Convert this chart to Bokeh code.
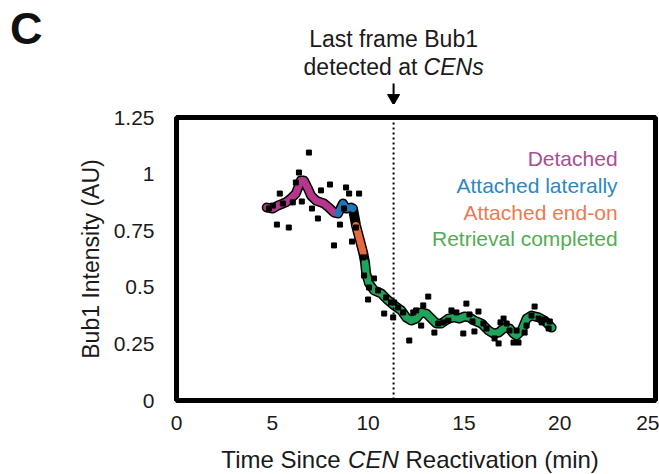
import math
from bokeh.plotting import figure
from bokeh.layouts import column
from bokeh.models import Range1d, FixedTicker, Span
from bokeh.core.properties import value
from bokeh.embed import file_html
from bokeh.resources import INLINE

# ---- data ----
x_ticks = [0, 5, 10, 15, 20, 25]
y_ticks = [0, 0.25, 0.5, 0.75, 1.0, 1.25]
y_tick_labels = ["0", "0.25", "0.5", "0.75", "1", "1.25"]

detached_t = [4.71, 5.03, 5.29, 5.55, 5.71, 5.97, 6.23, 6.49, 6.65, 6.86, 7.02, 7.28, 7.54, 7.70, 7.96, 8.22, 8.43]
detached_y = [0.852, 0.848, 0.861, 0.870, 0.875, 0.892, 0.914, 0.972, 0.972, 0.936, 0.905, 0.883, 0.875, 0.870, 0.852, 0.830, 0.826]

lateral_t = [8.43, 8.69, 8.85, 9.11, 9.21]
lateral_y = [0.826, 0.870, 0.848, 0.852, 0.848]

endon_t = [9.37, 9.74]
endon_y = [0.773, 0.654]

retrieved_t = [9.84, 9.90, 10.05, 10.31, 10.68, 11.05, 11.36, 11.73, 11.99, 12.25, 12.51, 12.77, 13.04,
               13.30, 13.56, 13.82, 14.19, 14.50, 14.76, 15.03, 15.29, 15.55, 15.92, 16.28, 16.54, 16.81,
               17.12, 17.38, 17.59, 17.75, 18.01, 18.27, 18.53, 18.90, 19.21, 19.48, 19.58]
retrieved_y = [0.610, 0.561, 0.517, 0.486, 0.473, 0.442, 0.420, 0.398, 0.367, 0.353, 0.362, 0.389, 0.384,
               0.362, 0.340, 0.340, 0.362, 0.367, 0.362, 0.371, 0.367, 0.353, 0.340, 0.309, 0.296, 0.300,
               0.322, 0.318, 0.296, 0.287, 0.309, 0.362, 0.375, 0.367, 0.353, 0.331, 0.322]

dots_t = [4.82, 5.03, 5.24, 5.39, 5.55, 5.86, 6.07, 6.23, 6.39, 6.54, 6.91, 7.07, 7.38, 7.54, 8.01, 8.22,
          8.53, 8.74, 8.85, 9.01, 9.16, 9.37, 9.53, 9.74, 9.79, 10.05, 10.00, 10.31, 10.52, 10.84, 10.94,
          11.20, 11.36, 11.57, 11.31, 11.83, 12.15, 12.36, 12.51, 12.88, 13.14, 12.77, 13.46, 13.66, 13.93,
          14.19, 14.35, 14.61, 14.97, 15.13, 15.29, 15.45, 15.55, 15.76, 16.02, 16.18, 16.60, 16.81, 16.91,
          17.07, 17.23, 17.38, 17.59, 17.85, 17.75, 18.17, 18.27, 18.53, 18.69, 18.90, 19.06, 19.21, 19.42, 19.48]
dots_y = [0.848, 0.861, 0.777, 0.914, 0.870, 0.764, 0.875, 0.963, 1.007, 0.879, 1.095, 0.848, 0.804, 0.928,
          0.954, 0.685, 0.777, 0.848, 0.941, 0.914, 0.702, 0.764, 0.914, 0.632, 0.552, 0.499, 0.446, 0.539,
          0.486, 0.384, 0.455, 0.433, 0.433, 0.411, 0.367, 0.389, 0.265, 0.389, 0.398, 0.420, 0.459, 0.331,
          0.300, 0.340, 0.345, 0.353, 0.398, 0.389, 0.296, 0.428, 0.380, 0.349, 0.305, 0.393, 0.340, 0.318,
          0.274, 0.252, 0.345, 0.362, 0.340, 0.309, 0.256, 0.256, 0.309, 0.300, 0.331, 0.375, 0.415, 0.362,
          0.345, 0.358, 0.318, 0.349]

last_frame_t = 11.33

legend_names = ["Detached", "Attached laterally", "Attached end-on", "Retrieval completed"]
legend_colors = ["#a94e93", "#2a88c6", "#ec7a52", "#52ad52"]
line_colors = ["#b5378c", "#1f77b8", "#e8683f", "#20a35a"]
legend_y = [1.069, 0.950, 0.830, 0.716]

FONT = "Liberation Sans"
TXT = "#1a1a1a"

W, H = 659, 474
X0, X1 = 0.0, 25.0
Y0, Y1 = 0.0, 1.25
FRAME_L, FRAME_R, FRAME_T, FRAME_B = 176, 655, 117, 400      # page pixels of the frame
sy = (FRAME_B - FRAME_T) / (Y1 - Y0)
TOP_H, BOT_Y = 104, 440

# ---- main plot ----
p = figure(width=W, height=BOT_Y - TOP_H, x_range=Range1d(X0, X1), y_range=Range1d(Y0, Y1),
           output_backend="svg", toolbar_location=None, title=None,
           min_border_left=FRAME_L, min_border_right=W - FRAME_R,
           min_border_top=FRAME_T - TOP_H, min_border_bottom=BOT_Y - FRAME_B)
p.grid.visible = False
p.outline_line_color = "black"
p.outline_line_width = 5

for ax in (p.xaxis, p.yaxis):
    ax.axis_line_color = None
    ax.major_tick_line_color = None
    ax.minor_tick_line_color = None
    ax.major_label_text_font = FONT
    ax.major_label_text_font_size = "21px"
    ax.major_label_text_color = TXT
p.xaxis.ticker = FixedTicker(ticks=x_ticks)
p.yaxis.ticker = FixedTicker(ticks=y_ticks)
p.yaxis.major_label_overrides = {t: l for t, l in zip(y_ticks, y_tick_labels)}
p.xaxis.major_label_standoff = 9
p.yaxis.major_label_standoff = 16

p.yaxis.axis_label = "Bub1 Intensity (AU)"
p.yaxis.axis_label_text_font = FONT
p.yaxis.axis_label_text_font_size = "23px"
p.yaxis.axis_label_text_font_style = "normal"
p.yaxis.axis_label_text_color = TXT
p.yaxis.axis_label_standoff = 7

p.add_layout(Span(location=last_frame_t, dimension="height", line_color="black",
                  line_width=2, line_dash="2 3"))

full_t = detached_t + lateral_t[1:] + endon_t + retrieved_t
full_y = detached_y + lateral_y[1:] + endon_y + retrieved_y
p.line(full_t, full_y, line_color="black", line_width=10, line_join="round", line_cap="round")
for (tt, yy), col in zip([(detached_t, detached_y), (lateral_t, lateral_y),
                          (endon_t, endon_y), (retrieved_t, retrieved_y)], line_colors):
    p.line(tt, yy, line_color=col, line_width=7, line_join="round", line_cap="round")

p.scatter(dots_t, dots_y, marker="square", size=5, color="black")

p.text(x=[23.02] * 4, y=legend_y, text=legend_names, text_color=legend_colors,
       text_font=value(FONT), text_font_size="21px", text_align="right", text_baseline="middle")

# ---- top strip (panel letter, annotation, arrow), same x scale as the main frame ----
panel_letter_y = 1.643
top = figure(width=W, height=TOP_H, output_backend="svg", toolbar_location=None, title=None,
             x_range=Range1d(X0, X1),
             y_range=Range1d(Y1 + (FRAME_T - TOP_H) / sy, Y1 + FRAME_T / sy),
             x_axis_location=None, y_axis_location="left",
             min_border_left=FRAME_L, min_border_right=W - FRAME_R, min_border_top=0, min_border_bottom=0)
top.grid.visible = False
top.outline_line_color = None
top.yaxis.ticker = FixedTicker(ticks=[panel_letter_y])
top.yaxis.major_label_overrides = {panel_letter_y: "C"}
top.yaxis.axis_line_color = None
top.yaxis.major_tick_line_color = None
top.yaxis.minor_tick_line_color = None
top.yaxis.major_label_text_font = FONT
top.yaxis.major_label_text_font_style = "bold"
top.yaxis.major_label_text_font_size = "45px"
top.yaxis.major_label_text_color = "#111111"
top.yaxis.major_label_standoff = 128

top.text(x=[last_frame_t], y=[1.595], text=["Last frame Bub1"], text_font=value(FONT),
         text_font_size="23px", text_align="center", text_baseline="middle", text_color=TXT)
top.text(x=[last_frame_t], y=[1.474], text=["detected at"], x_offset=-90, text_font=value(FONT),
         text_font_size="23px", text_align="left", text_baseline="middle", text_color=TXT)
top.text(x=[last_frame_t], y=[1.474], text=["CENs"], x_offset=30, text_font=value(FONT),
         text_font_style="italic", text_font_size="23px", text_align="left",
         text_baseline="middle", text_color=TXT)
top.segment(x0=[last_frame_t], y0=[1.400], x1=[last_frame_t], y1=[1.345], line_color="black", line_width=2)
top.scatter(x=[last_frame_t], y=[1.336], marker="triangle", angle=math.pi, size=12,
            fill_color="black", line_color="black")

# ---- bottom strip: x-axis title with italic CEN ----
bot = figure(width=W, height=H - BOT_Y, output_backend="svg", toolbar_location=None, title=None,
             x_range=Range1d(X0, X1),
             y_range=Range1d(Y0 - (H - FRAME_B) / sy, Y0 - (BOT_Y - FRAME_B) / sy),
             x_axis_location=None, y_axis_location=None,
             min_border_left=FRAME_L, min_border_right=W - FRAME_R, min_border_top=0, min_border_bottom=0)
bot.grid.visible = False
bot.outline_line_color = None
for txt, off, style in [("Time Since", -188.7, "normal"), ("CEN", -62.0, "italic"),
                        ("Reactivation (min)", -4.6, "normal")]:
    bot.text(x=[12.19], y=[-0.262], text=[txt], x_offset=off, text_font=value(FONT),
             text_font_style=style, text_font_size="24px", text_align="left",
             text_baseline="middle", text_color=TXT)

layout = column(top, p, bot, spacing=0)
open("out.html", "w").write(file_html(layout, INLINE))
